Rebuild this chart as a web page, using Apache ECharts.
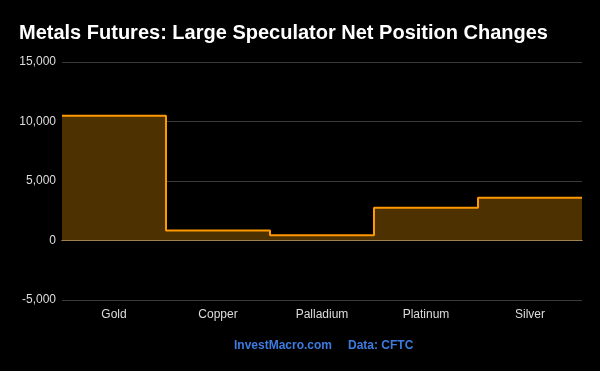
<!DOCTYPE html>
<html><head><meta charset="utf-8">
<script src="https://cdn.jsdelivr.net/npm/echarts@6/dist/echarts.min.js"></script>
<style>html,body{margin:0;padding:0;background:#000;}#c{width:600px;height:371px;}</style>
</head><body><div id="c"></div>
<script>
const categories = ['Gold', 'Copper', 'Palladium', 'Platinum', 'Silver'];
const netChanges = [10480, 840, 450, 2750, 3590];
const yTicks = [-5000, 0, 5000, 10000, 15000];

const stepData = netChanges.map((v, i) => [i, v]);
stepData.push([categories.length, netChanges[netChanges.length - 1]]);

const chart = echarts.init(document.getElementById('c'), null, {renderer: 'canvas'});
chart.setOption({
  backgroundColor: '#000000',
  animation: false,
  title: {
    text: 'Metals Futures: Large Speculator Net Position Changes',
    left: 14, top: 18,
    textStyle: {color: '#ffffff', fontSize: 20, fontWeight: 'bold', fontFamily: 'Liberation Sans'}
  },
  grid: {left: 62, right: 18, top: 62, bottom: 71},
  xAxis: [{
    type: 'category', data: categories, position: 'bottom', boundaryGap: true,
    axisLine: {show: false, onZero: false}, axisTick: {show: false},
    axisLabel: {color: '#dddddd', fontSize: 12, fontFamily: 'Liberation Sans', margin: 9},
    splitLine: {show: false}
  }, {
    type: 'value', min: 0, max: categories.length, position: 'bottom',
    axisLine: {show: true, onZero: true, lineStyle: {color: '#f5d3a8', width: 1}},
    axisTick: {show: false}, axisLabel: {show: false}, splitLine: {show: false}
  }],
  yAxis: {
    type: 'value', min: yTicks[0], max: yTicks[yTicks.length - 1], interval: 5000,
    axisLine: {show: false}, axisTick: {show: false},
    axisLabel: {color: '#dddddd', fontSize: 12, fontFamily: 'Liberation Sans', margin: 6,
      formatter: v => v.toLocaleString('en-US')},
    splitLine: {lineStyle: {color: '#3a3a3a', width: 1}}
  },
  series: [{
    type: 'line', xAxisIndex: 1, step: 'end', data: stepData,
    symbol: 'none',
    lineStyle: {color: '#ff9900', width: 2},
    areaStyle: {color: '#4d3100', opacity: 1, origin: 0}
  }],
  graphic: [
    {type: 'text', left: 234, top: 340, style: {text: 'InvestMacro.com', fill: '#3d7be0', font: 'bold 12px "Liberation Sans"'}},
    {type: 'text', left: 348, top: 340, style: {text: 'Data: CFTC', fill: '#3d7be0', font: 'bold 12px "Liberation Sans"'}}
  ]
});
</script></body></html>
